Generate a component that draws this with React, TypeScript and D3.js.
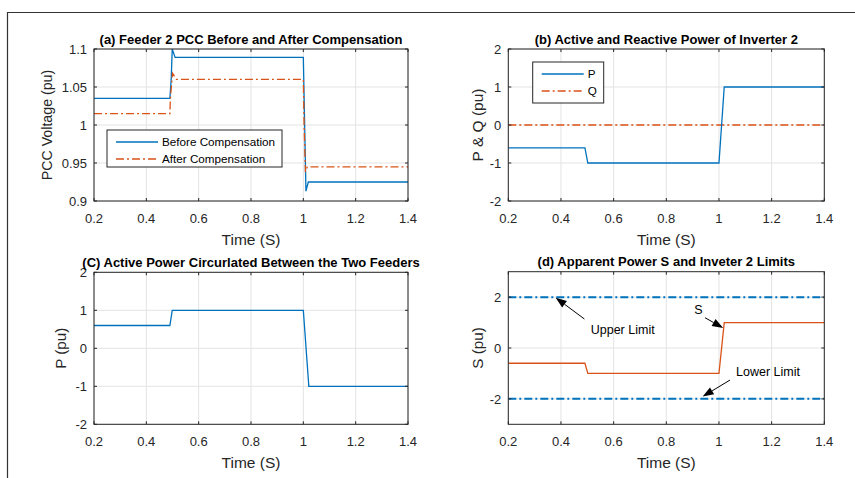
import React from "react";
import * as d3 from "d3";

// ---- data ----
const timeTicks = [0.2, 0.4, 0.6, 0.8, 1, 1.2, 1.4];

// (a) PCC voltage
const tBefore = [0.2, 0.49, 0.495, 0.499, 0.51, 1.0, 1.01, 1.019, 1.4];
const vBefore = [1.035, 1.035, 1.06, 1.1, 1.089, 1.089, 0.913, 0.925, 0.925];
const tAfter = [0.2, 0.49, 0.492, 0.5, 0.515, 1.0, 1.003, 1.008, 1.015, 1.4];
const vAfter = [1.015, 1.015, 1.035, 1.068, 1.06, 1.06, 1.0, 0.938, 0.945, 0.945];
const voltTicks = [0.9, 0.95, 1, 1.05, 1.1];

// (b) inverter 2 P & Q
const tP = [0.2, 0.491, 0.502, 1.0, 1.02, 1.4];
const pInv = [-0.6, -0.6, -1, -1, 1, 1];
const tQ = [0.2, 1.4];
const qInv = [0, 0];
const pqTicks = [-2, -1, 0, 1, 2];

// (c) circulated power
const tC = [0.2, 0.49, 0.499, 1.0, 1.021, 1.4];
const pCirc = [0.6, 0.6, 1, 1, -1, -1];

// (d) apparent power and limits
const tS = [0.2, 0.491, 0.502, 1.0, 1.02, 1.4];
const sInv = [-0.6, -0.6, -1, -1, 1, 1];
const upperLimit = [2, 2];
const lowerLimit = [-2, -2];
const sTicks = [-2, 0, 2];

const blue = "#0072BD";
const orange = "#D95319";
const font = "'Liberation Sans', Arial, sans-serif";
const dashDot = "8,3,2,3";

type Series = { t: number[]; v: number[]; color: string; dash?: string; width?: number };
type Note = { text: string; tx: number; ty: number; anchor?: string; x1: number; y1: number; x2: number; y2: number };

const Arrow = ({ x1, y1, x2, y2 }: { x1: number; y1: number; x2: number; y2: number }) => {
  const a = Math.atan2(y2 - y1, x2 - x1);
  const L = 11, W = 4;
  const bx = x2 - L * Math.cos(a), by = y2 - L * Math.sin(a);
  const p = [
    [x2, y2],
    [bx + W * Math.sin(a), by - W * Math.cos(a)],
    [bx - W * Math.sin(a), by + W * Math.cos(a)],
  ];
  return (
    <g>
      <line x1={x1} y1={y1} x2={bx} y2={by} stroke="#000" strokeWidth={1} />
      <polygon points={p.map((d) => d.join(",")).join(" ")} fill="#000" />
    </g>
  );
};

const Panel = ({
  left, top, width, height, yDomain, yTicks, title, yLabel, yLabelX, yLabelSize, series, legend, notes,
}: {
  left: number; top: number; width: number; height: number;
  yDomain: [number, number]; yTicks: number[];
  title: string; yLabel: string; yLabelX: number; yLabelSize: number;
  series: Series[];
  legend?: { x: number; y: number; w: number; h: number; items: { label: string; s: Series }[] };
  notes?: Note[];
}) => {
  const x = d3.scaleLinear().domain([0.2, 1.4]).range([0, width]);
  const y = d3.scaleLinear().domain(yDomain).range([height, 0]);
  const line = d3.line<[number, number]>().x((d) => x(d[0])).y((d) => y(d[1]));
  const tk = 3;
  const clipId = `clip${Math.round(left)}_${Math.round(top)}`;
  return (
    <g transform={`translate(${left},${top})`} fontFamily={font}>
      <rect width={width} height={height} fill="#fff" />
      {timeTicks.map((t) => (
        <line key={"gx" + t} x1={x(t)} x2={x(t)} y1={0} y2={height} stroke="#e3e3e3" />
      ))}
      {yTicks.map((t) => (
        <line key={"gy" + t} x1={0} x2={width} y1={y(t)} y2={y(t)} stroke="#e3e3e3" />
      ))}
      <defs>
        <clipPath id={clipId}>
          <rect width={width} height={height} />
        </clipPath>
      </defs>
      <g clipPath={`url(#${clipId})`}>
        {series.map((s, i) => (
          <path
            key={i}
            d={line(s.t.map((t, j) => [t, s.v[j]] as [number, number])) || ""}
            fill="none"
            stroke={s.color}
            strokeWidth={s.width || 1.3}
            strokeDasharray={s.dash}
          />
        ))}
      </g>
      {timeTicks.map((t) => (
        <g key={"tx" + t}>
          <line x1={x(t)} x2={x(t)} y1={height} y2={height - tk} stroke="#262626" />
          <line x1={x(t)} x2={x(t)} y1={0} y2={tk} stroke="#262626" />
          <text x={x(t)} y={height + 21.5} textAnchor="middle" fontSize={13} fill="#262626">
            {t}
          </text>
        </g>
      ))}
      {yTicks.map((t) => (
        <g key={"ty" + t}>
          <line x1={0} x2={tk} y1={y(t)} y2={y(t)} stroke="#262626" />
          <line x1={width} x2={width - tk} y1={y(t)} y2={y(t)} stroke="#262626" />
          <text x={-7} y={y(t) + 4.7} textAnchor="end" fontSize={13} fill="#262626">
            {String(t)}
          </text>
        </g>
      ))}
      <rect width={width} height={height} fill="none" stroke="#262626" strokeWidth={1} />
      <text x={width / 2} y={-5.5} textAnchor="middle" fontSize={13} fontWeight="bold" fill="#000">
        {title}
      </text>
      <text x={width / 2} y={height + 44} textAnchor="middle" fontSize={15.5} fill="#262626">
        Time (S)
      </text>
      <text
        transform={`translate(${yLabelX},${height / 2}) rotate(-90)`}
        textAnchor="middle"
        dy={yLabelSize * 0.36}
        fontSize={yLabelSize}
        fill="#262626"
      >
        {yLabel}
      </text>
      {legend && (
        <g transform={`translate(${legend.x},${legend.y})`}>
          <rect width={legend.w} height={legend.h} fill="#fff" stroke="#262626" />
          {legend.items.map((it, i) => (
            <g key={it.label} transform={`translate(0,${12 + i * 17})`}>
              <line x1={9} x2={51} y1={0} y2={0} stroke={it.s.color} strokeWidth={it.s.width || 1.3} strokeDasharray={it.s.dash} />
              <text x={55} y={4.3} fontSize={11.7} fill="#000">
                {it.label}
              </text>
            </g>
          ))}
        </g>
      )}
      {notes &&
        notes.map((n) => (
          <g key={n.text}>
            <Arrow x1={x(n.x1)} y1={y(n.y1)} x2={x(n.x2)} y2={y(n.y2)} />
            <text x={x(n.tx)} y={y(n.ty) + 4.5} textAnchor={n.anchor || "start"} fontSize={12.5} fill="#000">
              {n.text}
            </text>
          </g>
        ))}
    </g>
  );
};

export default function App() {
  const before: Series = { t: tBefore, v: vBefore, color: blue };
  const after: Series = { t: tAfter, v: vAfter, color: orange, dash: dashDot };
  const pS: Series = { t: tP, v: pInv, color: blue };
  const qS: Series = { t: tQ, v: qInv, color: orange, dash: dashDot, width: 1.5 };
  const notes: Note[] = [
    { text: "Upper Limit", tx: 0.513, ty: 0.73, x1: 0.489, y1: 1.14, x2: 0.38, y2: 1.98 },
    { text: "S", tx: 0.922, ty: 1.5, anchor: "middle", x1: 0.947, y1: 1.19, x2: 1.016, y2: 0.79 },
    { text: "Lower Limit", tx: 1.065, ty: -0.93, x1: 1.042, y1: -1.26, x2: 0.938, y2: -1.91 },
  ];
  return (
    <svg width={855} height={478} style={{ position: "absolute", left: 0, top: 0, background: "#fff" }}>
      <rect width={855} height={478} fill="#fff" />
      <path d="M7.5,478 V12.5 H855" fill="none" stroke="#333" strokeWidth={1.2} />
      <Panel
        left={94} top={49} width={314} height={152}
        yDomain={[0.9, 1.1]} yTicks={voltTicks}
        title="(a) Feeder 2 PCC Before and After Compensation"
        yLabel="PCC Voltage (pu)" yLabelX={-47} yLabelSize={14.2}
        series={[before, after]}
        legend={{ x: 13, y: 81, w: 175, h: 37, items: [
          { label: "Before Compensation", s: before },
          { label: "After Compensation", s: after },
        ] }}
      />
      <Panel
        left={508.3} top={49} width={316} height={152}
        yDomain={[-2, 2]} yTicks={pqTicks}
        title="(b) Active and Reactive Power of Inverter 2"
        yLabel="P & Q (pu)" yLabelX={-31} yLabelSize={15.5}
        series={[qS, pS]}
        legend={{ x: 24.4, y: 13, w: 71, h: 41, items: [
          { label: "P", s: pS },
          { label: "Q", s: qS },
        ] }}
      />
      <Panel
        left={94} top={272.3} width={314} height={152}
        yDomain={[-2, 2]} yTicks={pqTicks}
        title="(C) Active Power Circurlated Between the Two Feeders"
        yLabel="P (pu)" yLabelX={-33} yLabelSize={15.2}
        series={[{ t: tC, v: pCirc, color: blue }]}
      />
      <Panel
        left={508.3} top={271.7} width={316} height={152.6}
        yDomain={[-3, 3]} yTicks={sTicks}
        title="(d) Apparent Power S and Inveter 2 Limits"
        yLabel="S (pu)" yLabelX={-31} yLabelSize={15.2}
        series={[
          { t: tQ, v: upperLimit, color: blue, dash: dashDot, width: 2 },
          { t: tQ, v: lowerLimit, color: blue, dash: dashDot, width: 2 },
          { t: tS, v: sInv, color: orange },
        ]}
        notes={notes}
      />
    </svg>
  );
}
